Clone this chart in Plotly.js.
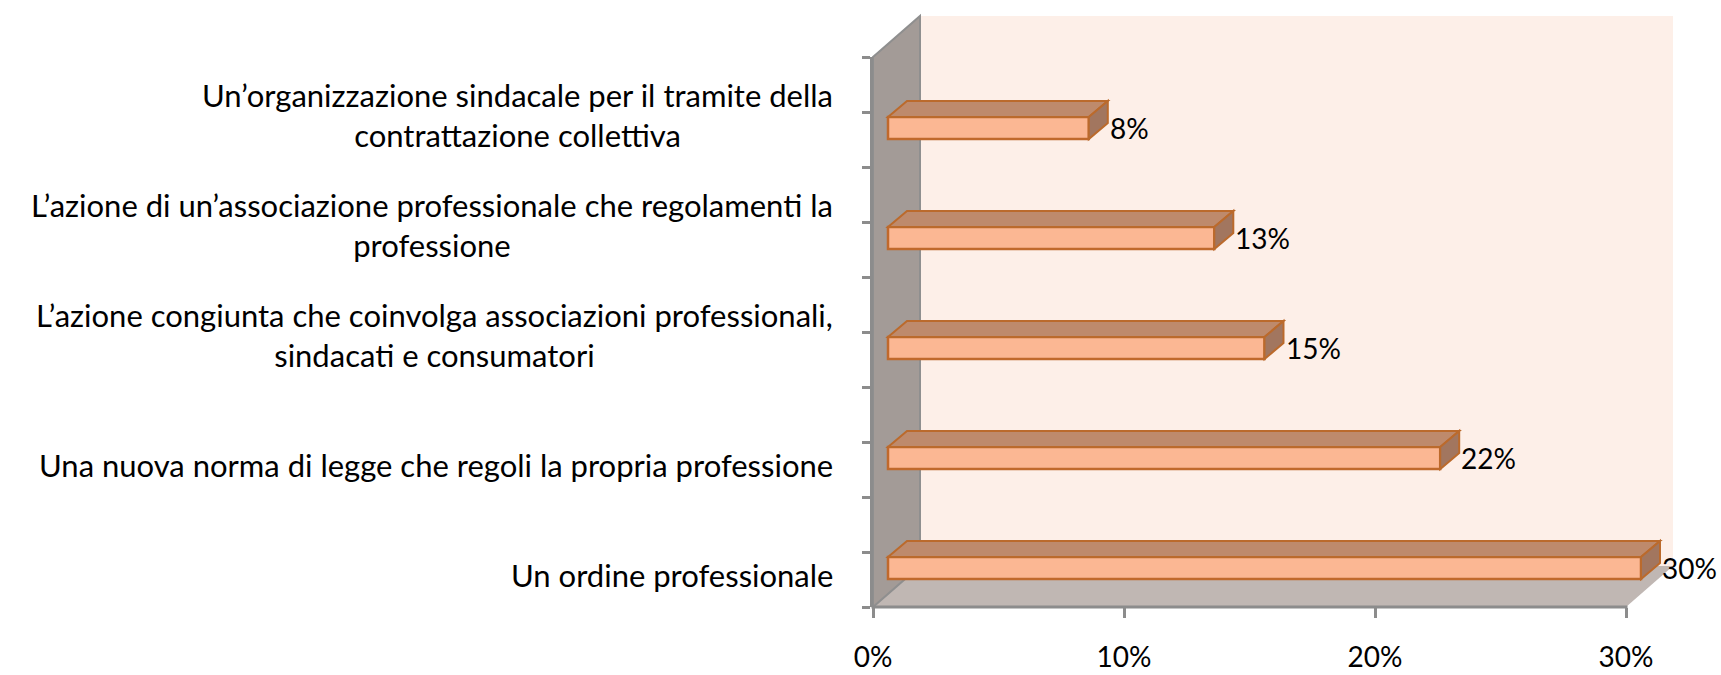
<!DOCTYPE html>
<html>
<head>
<meta charset="utf-8">
<script src="https://cdn.plot.ly/plotly-3.0.1.min.js"></script>
<style>html,body{margin:0;padding:0;background:#fff;}#chart{width:1721px;height:675px;}</style>
</head>
<body>
<div id="chart"></div>
<script>
// ---- data ----
const categories = [
  "Un’organizzazione sindacale per il tramite della<br>contrattazione collettiva",
  "L’azione di un’associazione professionale che regolamenti la<br>professione",
  "L’azione congiunta che coinvolga associazioni professionali,<br>sindacati e consumatori",
  "Una nuova norma di legge che regoli la propria professione",
  "Un ordine professionale"
];
const values = [8, 13, 15, 22, 30];
const valueLabels = ["8%", "13%", "15%", "22%", "30%"];
const xTickVals = [0, 10, 20, 30];
const xTickText = ["0%", "10%", "20%", "30%"];

// ---- geometry / style ----
const W = 1721, H = 675;
const FRONT = {l: 873, r: 1626, t: 57, b: 607};   // front plane in px
const EXTRA_R = 24;                                // room for bars sitting behind the front plane
const M = {l: FRONT.l, r: W - FRONT.r - EXTRA_R, t: FRONT.t, b: H - FRONT.b};
const PW = W - M.l - M.r, PH = H - M.t - M.b;
const X_MAX = 30;
const XR = [0, X_MAX * PW / (FRONT.r - FRONT.l)];
const YR = [categories.length - 0.5, -0.5];
const WALL_D = {x: 47, y: -41};
const BAR_SHIFT = 15;       // px, bars sit a bit behind front plane
const BAR_D = {x: 19, y: -16};
const BAR_W = 0.2, BAR_OFF = 0.0455;
const FONT = "Lato, 'Open Sans', sans-serif";
const FS = 31, FS_NUM = 28;

const xPx = v => M.l + (v - XR[0]) / (XR[1] - XR[0]) * PW;
const yPx = u => M.t + PH * (u - YR[1]) / (YR[0] - YR[1]);
const pX = X => (X - M.l) / PW;
const pY = Y => 1 - (Y - M.t) / PH;
const path = pts => 'M ' + pts.map(p => pX(p[0]).toFixed(5) + ',' + pY(p[1]).toFixed(5)).join(' L ') + ' Z';
const baseUnits = BAR_SHIFT * (XR[1] - XR[0]) / PW;

const L0 = xPx(0), R0 = xPx(X_MAX), T0 = M.t, B0 = M.t + PH;
const shapes = [];
// back wall
shapes.push({type: 'path', xref: 'paper', yref: 'paper', layer: 'below',
  path: path([[L0 + WALL_D.x, T0 + WALL_D.y], [R0 + WALL_D.x, T0 + WALL_D.y], [R0 + WALL_D.x, B0 + WALL_D.y], [L0 + WALL_D.x, B0 + WALL_D.y]]),
  fillcolor: '#fdefe8', line: {width: 0}});
// floor
shapes.push({type: 'path', xref: 'paper', yref: 'paper', layer: 'below',
  path: path([[L0, B0], [R0, B0], [R0 + WALL_D.x, B0 + WALL_D.y], [L0 + WALL_D.x, B0 + WALL_D.y]]),
  fillcolor: '#c0b7b3', line: {width: 0}});
// side wall
shapes.push({type: 'path', xref: 'paper', yref: 'paper', layer: 'below',
  path: path([[L0, T0], [L0 + WALL_D.x, T0 + WALL_D.y], [L0 + WALL_D.x, B0 + WALL_D.y], [L0, B0]]),
  fillcolor: '#a39b97', line: {color: '#8f8f8f', width: 2}});
// floor front edge (category axis base line)
shapes.push({type: 'line', xref: 'paper', yref: 'paper', layer: 'below',
  x0: pX(L0 - 1.5), x1: pX(R0 + 1.5), y0: 0, y1: 0, line: {color: '#8c8c8c', width: 3}});

const annotations = [];
values.forEach((v, i) => {
  const L = xPx(0) + BAR_SHIFT, R = xPx(v) + BAR_SHIFT;
  const top = yPx(i + BAR_OFF), bot = yPx(i + BAR_OFF + BAR_W);
  shapes.push({type: 'path', xref: 'paper', yref: 'paper', layer: 'above',
    path: path([[L, top], [R, top], [R + BAR_D.x, top + BAR_D.y], [L + BAR_D.x, top + BAR_D.y]]),
    fillcolor: '#be8a6c', line: {color: '#bb6a2c', width: 2}});
  shapes.push({type: 'path', xref: 'paper', yref: 'paper', layer: 'above',
    path: path([[R, top], [R + BAR_D.x, top + BAR_D.y], [R + BAR_D.x, bot + BAR_D.y], [R, bot]]),
    fillcolor: '#a2765f', line: {color: '#bb6a2c', width: 2}});
  annotations.push({xref: 'paper', yref: 'paper', x: pX(R + BAR_D.x), y: pY((top + bot) / 2),
    xanchor: 'left', yanchor: 'middle', showarrow: false, text: valueLabels[i],
    font: {family: FONT, size: FS_NUM, color: '#000'}});
  annotations.push({xref: 'paper', yref: 'paper', x: pX(835), y: pY((top + bot) / 2 + 28),
    xanchor: 'right', yanchor: 'bottom', align: 'center', showarrow: false, text: categories[i],
    font: {family: FONT, size: FS, color: '#000'}});
});

const trace = {
  type: 'bar', orientation: 'h',
  y: categories.map((c, i) => i), x: values, base: baseUnits,
  width: BAR_W, offset: BAR_OFF,
  marker: {color: '#fbb793', line: {color: '#c0692c', width: 2.5}},
  hoverinfo: 'skip'
};

const layout = {
  width: W, height: H,
  margin: M,
  paper_bgcolor: '#ffffff', plot_bgcolor: 'rgba(0,0,0,0)',
  showlegend: false,
  font: {family: FONT, size: FS, color: '#000'},
  xaxis: {range: XR, tickmode: 'array', tickvals: xTickVals, ticktext: xTickText,
    ticks: 'outside', ticklen: 10, tickwidth: 3, tickcolor: '#8c8c8c',
    showline: false, showgrid: false, zeroline: false,
    ticklabelstandoff: 15, tickfont: {family: FONT, size: FS_NUM, color: '#000'}, fixedrange: true},
  yaxis: {range: YR, tickmode: 'linear', tick0: -0.5, dtick: 0.5,
    ticks: 'outside', ticklen: 8, tickwidth: 3, tickcolor: '#8c8c8c',
    showline: true, linecolor: '#8c8c8c', linewidth: 3, showgrid: false, zeroline: false,
    showticklabels: false, fixedrange: true},
  shapes: shapes,
  annotations: annotations
};

Plotly.newPlot('chart', [trace], layout, {staticPlot: true, displayModeBar: false});
</script>
</body>
</html>
